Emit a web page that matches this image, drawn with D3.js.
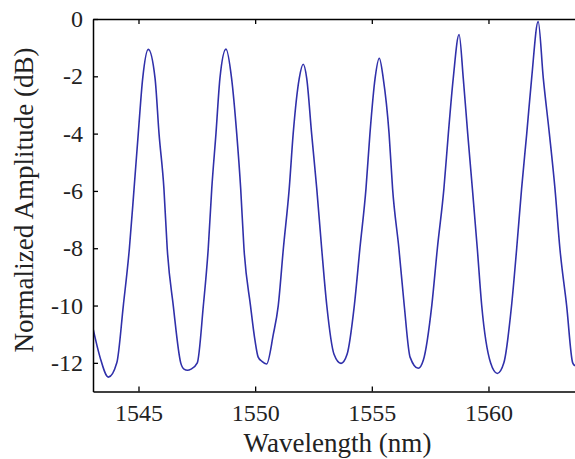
<!DOCTYPE html>
<html>
<head>
<meta charset="utf-8">
<script src="https://cdn.jsdelivr.net/npm/d3@7"></script>
<style>
  html, body { margin: 0; padding: 0; background: #ffffff; }
  svg { display: block; }
  text { font-family: "Liberation Serif", "Times New Roman", "DejaVu Serif", serif; }
</style>
</head>
<body>
<div id="chart"></div>
<script>
// ---- Data ----
const wavelength = [
  1543.05, 1543.35, 1543.71, 1544.07, 1544.35, 1544.61, 1544.81, 1544.99, 1545.18, 1545.42,
  1545.71, 1545.88, 1546.09, 1546.23, 1546.49, 1546.81, 1546.95, 1547.10, 1547.25, 1547.52,
  1547.78, 1547.99, 1548.14, 1548.32, 1548.49, 1548.75, 1548.99, 1549.21, 1549.38, 1549.52,
  1549.80, 1549.99, 1550.13, 1550.29, 1550.49, 1550.78, 1550.99, 1551.21, 1551.46, 1551.63,
  1551.89, 1552.06, 1552.21, 1552.42, 1552.64, 1552.85, 1553.07, 1553.38, 1553.68, 1553.94,
  1554.25, 1554.49, 1554.75, 1554.92, 1555.14, 1555.32, 1555.49, 1555.74, 1555.89, 1556.16,
  1556.39, 1556.64, 1556.99, 1557.21, 1557.57, 1557.81, 1558.09, 1558.28, 1558.49, 1558.74,
  1558.92, 1559.11, 1559.31, 1559.52, 1559.71, 1560.09, 1560.38, 1560.66, 1560.99, 1561.21,
  1561.42, 1561.64, 1561.85, 1562.13, 1562.35, 1562.61, 1562.85, 1563.06, 1563.35, 1563.61,
  1563.71
];
const amplitude = [
  -10.8, -11.8, -12.5, -12.0, -10.0, -8.0, -5.92, -4.0, -2.07, -1.06,
  -2.07, -4.0, -5.92, -8.0, -10.0, -12.0, -12.22, -12.26, -12.22, -12.0,
  -10.0, -8.0, -5.92, -4.0, -2.07, -1.05, -2.07, -4.0, -5.92, -8.0,
  -10.0, -11.2, -11.8, -11.95, -12.04, -11.0, -10.0, -8.0, -5.92, -4.0,
  -2.07, -1.58, -2.07, -4.0, -5.92, -8.0, -10.0, -11.7, -12.02, -11.7,
  -10.0, -8.0, -5.92, -4.0, -2.07, -1.37, -2.07, -4.0, -5.92, -8.0,
  -10.0, -11.8, -12.19, -11.9, -10.0, -8.0, -5.92, -4.0, -2.07, -0.54,
  -2.07, -4.0, -5.92, -8.0, -10.0, -12.0, -12.37, -12.0, -10.0, -8.0,
  -5.92, -4.0, -2.07, -0.09, -2.07, -4.0, -5.92, -8.0, -10.0, -12.0,
  -12.1
];
const xTicks = [1545, 1550, 1555, 1560];
const yTicks = [0, -2, -4, -6, -8, -10, -12];
const xLabel = "Wavelength (nm)";
const yLabel = "Normalized Amplitude (dB)";

// ---- Layout ----
const W = 575, H = 459;
const mLeft = 93, mTop = 19, mBottom = 391.5, mRight = 581.8;

const svg = d3.select("#chart").append("svg")
  .attr("width", W).attr("height", H)
  .attr("viewBox", `0 0 ${W} ${H}`);

const x = d3.scaleLinear().domain([1543.05, 1564]).range([mLeft, mRight]);
const y = d3.scaleLinear().domain([-13, 0]).range([mBottom, mTop]);

svg.append("defs").append("clipPath").attr("id", "plotclip")
  .append("rect").attr("x", mLeft).attr("y", mTop - 2)
  .attr("width", mRight - mLeft).attr("height", mBottom - mTop + 2);

// ---- Curve ----
const pts = wavelength.map((w, i) => [w, amplitude[i]]);
const line = d3.line()
  .x(d => x(d[0])).y(d => y(d[1]))
  .curve(d3.curveMonotoneX);

svg.append("path")
  .datum(pts)
  .attr("clip-path", "url(#plotclip)")
  .attr("fill", "none")
  .attr("stroke", "#3030aa")
  .attr("stroke-width", 1.6)
  .attr("stroke-linejoin", "round")
  .attr("d", line);

// ---- Axes ----
const gx = svg.append("g").attr("transform", `translate(0,${mBottom})`)
  .call(d3.axisBottom(x).tickValues(xTicks).tickFormat(d3.format("d"))
    .tickSizeInner(-5).tickSizeOuter(0).tickPadding(12));
const gxTop = svg.append("g").attr("transform", `translate(0,${mTop})`)
  .call(d3.axisTop(x).tickValues(xTicks).tickFormat("")
    .tickSizeInner(-5).tickSizeOuter(0));
const gy = svg.append("g").attr("transform", `translate(${mLeft},0)`)
  .call(d3.axisLeft(y).tickValues(yTicks).tickFormat(d => d)
    .tickSizeInner(-5).tickSizeOuter(0).tickPadding(10));

// remove d3's default sans-serif on axis groups
[gx, gxTop, gy].forEach(g => {
  g.attr("font-family", null).attr("font-size", null);
  g.selectAll(".domain").attr("stroke", "#000").attr("stroke-width", 1.5);
  g.selectAll(".tick line").attr("stroke", "#000").attr("stroke-width", 1.3);
  g.selectAll("text")
    .attr("fill", "#222")
    .style("font-size", "24px");
});
gy.selectAll("text").text(d => d === 0 ? "0" : "-" + Math.abs(d));

// Fit tick font so "1550" is about 48px wide, like the reference
const probe = gx.selectAll(".tick text").nodes()[1];
const w0 = probe.getComputedTextLength();
const tickSize = Math.max(14, Math.min(30, 24 * 48 / w0));
gx.selectAll("text").style("font-size", tickSize + "px");
gy.selectAll("text").style("font-size", tickSize + "px");

// ---- Titles ----
const tx = svg.append("text")
  .attr("x", 337.5).attr("y", 452)
  .attr("text-anchor", "middle")
  .style("font-size", "27px")
  .attr("fill", "#222")
  .text(xLabel);
const txw = tx.node().getComputedTextLength();
const titleSize = Math.max(16, Math.min(32, 27 * 188 / txw));
tx.style("font-size", titleSize + "px");

svg.append("text")
  .attr("transform", "translate(33,200) rotate(-90)")
  .attr("text-anchor", "middle")
  .style("font-size", titleSize + "px")
  .attr("fill", "#222")
  .text(yLabel);
</script>
</body>
</html>
